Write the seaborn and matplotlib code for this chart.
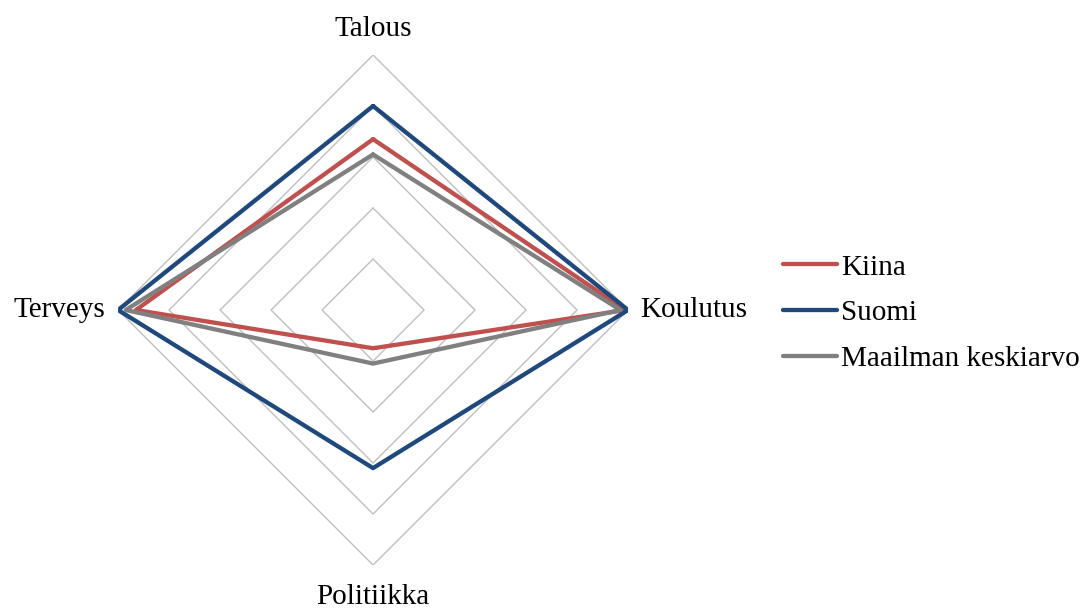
import numpy as np
import pandas as pd
import matplotlib
matplotlib.use("Agg")
import matplotlib.pyplot as plt
import seaborn as sns

# Dimensions, clockwise from the top
categories = ["Talous", "Koulutus", "Politiikka", "Terveys"]
series_names = ["Kiina", "Suomi", "Maailman keskiarvo"]
kiina = [0.67, 0.99, 0.15, 0.93]
suomi = [0.80, 1.00, 0.62, 1.00]
maailma = [0.61, 0.97, 0.21, 0.97]
grid_levels = [0.2, 0.4, 0.6, 0.8, 1.0]

colors = {"Kiina": "#C0504D", "Suomi": "#1F497D", "Maailman keskiarvo": "#808080"}

sns.set_theme(style="white")
plt.rcParams["font.family"] = ["Liberation Serif", "DejaVu Serif"]
plt.rcParams["text.color"] = "black"

angles = np.linspace(0, 2 * np.pi, len(categories), endpoint=False)
closed_angles = np.append(angles, 2 * np.pi)

rows = []
for name, vals in zip(series_names, [kiina, suomi, maailma]):
    closed_vals = list(vals) + [vals[0]]
    for order, (a, v) in enumerate(zip(closed_angles, closed_vals)):
        rows.append({"series": name, "angle": a, "value": v, "order": order})
df = pd.DataFrame(rows)

fig = plt.figure(figsize=(10.87, 6.08), dpi=100)
ax = fig.add_axes([0.1086, 0.0707, 0.4692, 0.8388], projection="polar")
ax.set_theta_offset(np.pi / 2)
ax.set_theta_direction(-1)

# Diamond-shaped grid rings
for lvl in grid_levels:
    ax.plot(closed_angles, [lvl] * len(closed_angles), color="#BFBFBF",
            linewidth=1.0, zorder=1)

sns.lineplot(data=df, x="angle", y="value", hue="series", palette=colors,
             hue_order=series_names, sort=False, estimator=None,
             linewidth=3.1, ax=ax, legend=False, zorder=3)

ax.set_ylim(0, 1.0)
ax.grid(False)
ax.set_xticks([])
ax.set_yticks([])
ax.spines["polar"].set_visible(False)
ax.set_xlabel("")
ax.set_ylabel("")
ax.patch.set_alpha(0)

label_fs = 21
offsets = {
    "Talous": ((0, 18.5), "center", "center"),
    "Koulutus": ((9, 0), "left", "center"),
    "Politiikka": ((0, -23), "center", "center"),
    "Terveys": ((-9, 0), "right", "center"),
}
for cat, a in zip(categories, angles):
    off, ha, va = offsets[cat]
    ax.annotate(cat, xy=(a, 1.0), xytext=off, textcoords="offset points",
                ha=ha, va=va, fontsize=label_fs, color="black",
                annotation_clip=False)

handles = [plt.Line2D([], [], color=colors[n], linewidth=3.1,
                      solid_capstyle="round") for n in series_names]
leg = fig.legend(handles, series_names, loc="center left",
                 bbox_to_anchor=(0.7203, 0.485), frameon=False, fontsize=label_fs,
                 handlelength=1.85, handletextpad=0.15, labelspacing=0.66,
                 borderpad=0, borderaxespad=0)
for t in leg.get_texts():
    t.set_color("black")

fig.savefig("out.png", dpi=100, facecolor="white")
